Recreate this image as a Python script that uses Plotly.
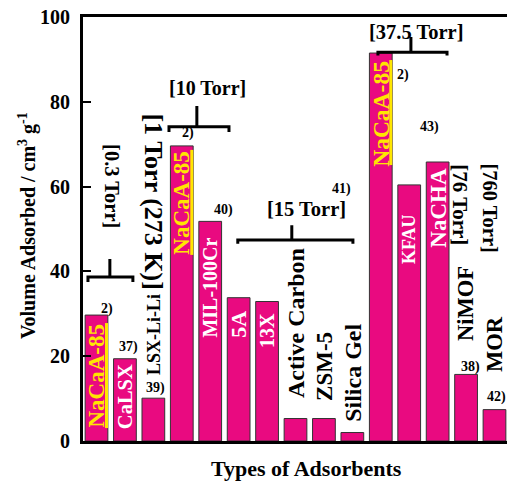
import plotly.graph_objects as go

# ---------------- data ----------------
adsorbents = ["NaCaA-85", "CaLSX", "LSX-Li-Li", "NaCaA-85", "MIL-100Cr", "5A", "13X",
              "Active Carbon", "ZSM-5", "Silica Gel", "NaCaA-85", "KFAU", "NaCHA",
              "NiMOF", "MOR"]
volume_adsorbed = [29.7, 19.4, 10.1, 69.6, 51.8, 33.8, 32.9, 5.3, 5.3, 2.0, 91.5, 60.4, 65.8, 15.7, 7.4]
references = ["2)", "37)", "39)", "2)", "40)", "", "", "", "", "41)", "2)", "43)", "", "38)", "42)"]
y_ticks = [0, 20, 40, 60, 80, 100]
pressure_groups = ["[0.3 Torr]", "[1 Torr (273 K)]", "[10 Torr]", "[15 Torr]", "[37.5 Torr]",
                   "[76 Torr]", "[760 Torr]"]

# ---------------- style ----------------
FONT = "Liberation Serif"
PINK = "#E90A80"
YELLOW = "#FFE600"
idx = list(range(len(adsorbents)))

# label placement per bar: (inside?, colour, font size, pixel gap from bar top)
label_style = [
    (True, YELLOW, 23, 8), (True, "white", 20.5, 4), (False, "black", 18, 22),
    (True, YELLOW, 23, 4), (True, "white", 20, 15), (True, "white", 22, 12),
    (True, "white", 20, 11), (False, "black", 24, 19), (False, "black", 23, 17),
    (False, "black", 24, 10), (True, YELLOW, 23.5, 7), (True, "white", 18, 28),
    (True, "white", 23, 5), (False, "black", 22.5, 32), (False, "black", 22.5, 37),
]

fig = go.Figure(go.Bar(
    x=idx, y=volume_adsorbed, width=0.8,
    marker=dict(color=PINK, line=dict(color="#333333", width=1)),
    hoverinfo="skip",
))

ann = []
shapes = []
for i, (name, v, st) in enumerate(zip(adsorbents, volume_adsorbed, label_style)):
    inside, col, size, gap = st
    ann.append(dict(
        x=i, y=v, xref="x", yref="y", text=f"<b>{name}</b>", textangle=-90,
        showarrow=False, font=dict(family=FONT, size=size, color=col),
        yanchor="top" if inside else "bottom", xanchor="center",
        yshift=-gap if inside else gap, borderpad=0,
    ))
    if col == YELLOW:
        shapes.append(dict(type="line", xref="x", yref="y", xsizemode="pixel", ysizemode="pixel",
                           xanchor=i, yanchor=v, x0=10, x1=10, y0=-gap, y1=-(gap + 105),
                           line=dict(color=YELLOW, width=3), layer="above"))

# reference numbers: (x in bar-index units, y in data units)
ref_pos = [(0.37, 31.1), (1.14, 22.2), (2.09, 12.5), (3.22, 72.6), (4.45, 54.5), None, None,
           None, None, (8.63, 59.4), (10.78, 86.3), (11.73, 74.1), None, (13.14, 17.5), (14.08, 10.4)]
for r, p in zip(references, ref_pos):
    if r and p:
        ann.append(dict(x=p[0], y=p[1], xref="x", yref="y", text=f"<b>{r}</b>", showarrow=False,
                        xanchor="center", font=dict(family=FONT, size=14, color="black")))

# pressure-group labels: (x, y, angle, size, anchor)
group_pos = [
    (0.54, 70.3, 90, 20.5, "top"), (2.0, 77.4, 90, 26, "top"), (3.92, 83.3, 0, 20, "middle"),
    (7.37, 54.7, 0, 20.5, "middle"), (11.24, 96.5, 0, 20.5, "middle"),
    (12.79, 65.6, 90, 21, "top"), (13.84, 65.6, 90, 20.5, "top"),
]
for t, (gx, gy, ang, sz, ya) in zip(pressure_groups, group_pos):
    ann.append(dict(x=gx, y=gy, xref="x", yref="y", text=f"<b>{t}</b>", textangle=ang,
                    showarrow=False, yanchor=ya, xanchor="center",
                    font=dict(family=FONT, size=sz, color="black"), borderpad=0))

# brackets: (x left, x right, y, stem x, stem top, drop)
brackets = [
    (-0.30, 1.28, 38.7, 0.47, 42.9, 1.2),
    (2.55, 4.66, 74.1, 3.53, 79.0, 1.2),
    (4.97, 9.02, 47.4, 6.87, 50.9, 0.9),
    (9.90, 12.33, 91.7, 11.06, 95.3, 0.8),
]
for xl, xr, by, sx, st_top, d in brackets:
    shapes.append(dict(type="path", xref="x", yref="y",
                       path=f"M {xl},{by-d} L {xl},{by} L {xr},{by} L {xr},{by-d} M {sx},{by} L {sx},{st_top}",
                       line=dict(color="black", width=3)))

# axis titles
ann.append(dict(x=-0.132, y=0.507, xref="paper", yref="paper", textangle=-90, showarrow=False,
                xanchor="center", yanchor="middle",
                text="<b>Volume Adsorbed / cm<sup>3</sup> g<sup>-1</sup></b>",
                font=dict(family=FONT, size=20, color="black")))
ann.append(dict(x=0.526, y=-0.064, xref="paper", yref="paper", showarrow=False,
                xanchor="center", yanchor="middle",
                text="<b>Types of Adsorbents</b>", font=dict(family=FONT, size=22, color="black")))

fig.update_layout(
    width=507, height=484,
    margin=dict(l=83, r=0, t=17, b=43),
    plot_bgcolor="white", paper_bgcolor="white",
    showlegend=False,
    annotations=ann, shapes=shapes,
    xaxis=dict(range=[-0.475, 14.44], showline=True, linewidth=3, linecolor="black", mirror=True,
               showticklabels=False, ticks="", showgrid=False, zeroline=False),
    yaxis=dict(range=[0, 100], tickvals=y_ticks, ticktext=[f"<b>{t}</b>" for t in y_ticks],
               showline=True, linewidth=3, linecolor="black", ticks="inside", ticklen=8,
               tickwidth=2, tickcolor="black", showgrid=False, zeroline=False,
               tickfont=dict(family=FONT, size=20, color="black"), ticklabelstandoff=6),
)

# remove the default 8px page margin so the figure fills the window exactly
fig.write_html("out.html", config={"displayModeBar": False, "staticPlot": True},
               post_script="document.body.style.margin='0';document.body.style.overflow='hidden';")
